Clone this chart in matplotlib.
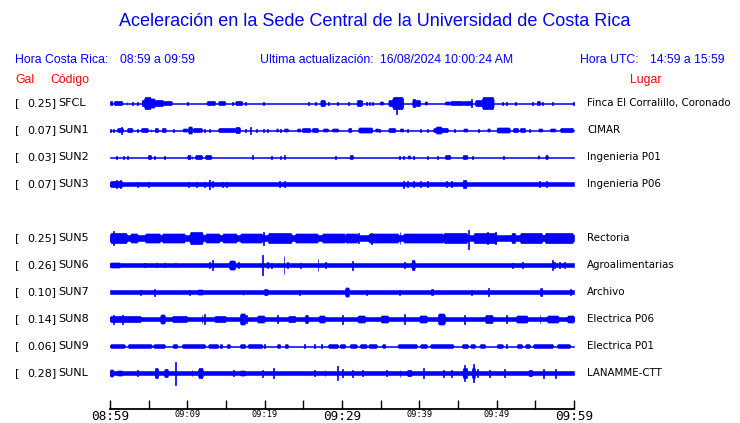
import matplotlib
matplotlib.use('Agg')
import matplotlib.pyplot as plt

# estaciones (codigo, Gal, lugar, fila)
codigos = ['SFCL', 'SUN1', 'SUN2', 'SUN3', 'SUN5', 'SUN6', 'SUN7', 'SUN8', 'SUN9', 'SUNL']
gal = ['0.25', '0.07', '0.03', '0.07', '0.25', '0.26', '0.10', '0.14', '0.06', '0.28']
lugares = ['Finca El Corralillo, Coronado', 'CIMAR', 'Ingenieria P01', 'Ingenieria P06',
           'Rectoria', 'Agroalimentarias', 'Archivo', 'Electrica P06', 'Electrica P01',
           'LANAMME-CTT']
filas = [0, 1, 2, 3, 5, 6, 7, 8, 9, 10]

# ruido de fondo de cada traza (amplitud relativa)
fondo = [0.5, 0.5, 0.5, 1.8, 3.3, 1.8, 1.8, 2.4, 0.5, 2.0]

# eventos: (minuto inicio, minuto fin, amplitud), minutos desde 08:59
ev_SFCL = [(0.0, 0.3, 2), (0.5, 1.6, 2), (2.2, 2.2, 1.5), (2.9, 2.9, 1.5), (3.5, 3.5, 1.5),
           (4.1, 4.5, 3), (4.4, 5.3, 6), (5.2, 5.8, 4.5), (5.8, 6.9, 3), (6.9, 8.0, 2),
           (10.0, 10.0, 1.5), (12.5, 13.6, 2), (14.0, 14.9, 2), (15.9, 15.9, 1.5),
           (16.2, 17.1, 2), (17.5, 17.5, 1.5), (19.9, 19.9, 1.5), (25.7, 25.7, 1.5),
           (26.6, 26.6, 1.5), (27.2, 27.8, 3), (28.3, 28.3, 1.5), (29.4, 29.4, 1.5),
           (30.9, 30.9, 1.5), (31.9, 32.6, 3), (33.2, 33.2, 1.5), (33.6, 33.6, 1.5),
           (33.9, 33.9, 1.5), (34.9, 35.3, 1.5), (36.0, 36.6, 3), (36.5, 37.9, 6),
           (39.1, 39.5, 4), (39.5, 40.1, 3), (40.7, 41.0, 1.5), (43.3, 44.0, 1.5),
           (44.0, 45.7, 2), (45.7, 46.8, 2), (46.8, 46.8, 4), (47.2, 48.2, 3),
           (48.1, 49.6, 6), (50.7, 50.7, 1.5), (51.3, 51.3, 1.5), (52.4, 52.4, 1.5),
           (54.6, 54.6, 1.5), (55.2, 55.6, 2), (55.9, 55.9, 1.5), (57.2, 57.2, 1.5),
           (59.9, 59.9, 1.5)]
ev_SUN1 = [(0.1, 0.1, 1.5), (0.4, 0.4, 1.5), (0.9, 1.7, 2), (1.5, 1.6, 3.5), (2.2, 2.9, 2),
           (3.5, 3.5, 1.5), (4.0, 4.9, 2), (5.3, 5.3, 1.5), (5.8, 6.2, 2), (6.7, 7.2, 2),
           (8.2, 8.2, 1.5), (9.4, 10.0, 1.5), (10.1, 10.6, 3.5), (10.7, 11.9, 2),
           (12.2, 12.2, 1.5), (12.9, 12.9, 1.5), (14.0, 16.2, 2), (16.2, 16.8, 3),
           (17.5, 17.5, 1.5), (18.2, 18.2, 3.5), (19.0, 19.0, 1.5), (19.8, 19.8, 1.5),
           (20.4, 20.4, 1.5), (21.5, 21.7, 1.5), (22.0, 22.0, 1.5), (22.5, 23.0, 1.5),
           (24.2, 24.6, 1.5), (24.8, 25.9, 2), (26.1, 26.9, 2), (27.5, 28.2, 1.5),
           (28.7, 29.5, 1.5), (30.8, 31.2, 2), (32.1, 33.9, 2.5), (34.3, 34.7, 1.5),
           (34.9, 34.9, 1.5), (36.0, 36.9, 2), (37.5, 37.9, 1.5), (38.5, 38.5, 1.5),
           (40.1, 40.1, 1.5), (41.0, 41.0, 1.5), (41.8, 43.7, 2), (42.1, 42.9, 3.5),
           (44.6, 44.6, 1.5), (45.7, 46.2, 1.5), (47.6, 47.6, 1.5), (48.8, 49.1, 1.5),
           (50.0, 51.7, 2.5), (52.1, 52.8, 2), (53.0, 53.7, 2), (54.3, 54.3, 1.5),
           (55.4, 55.9, 1.5), (56.9, 57.6, 1.5), (58.2, 59.9, 2)]
ev_SUN2 = [(0.9, 0.9, 1.5), (1.7, 1.7, 1.5), (2.3, 2.3, 1.5), (4.9, 5.3, 2), (5.7, 5.7, 1.5),
           (7.1, 7.1, 1.5), (10.0, 10.4, 2), (10.6, 10.6, 1.5), (11.0, 11.9, 2),
           (12.3, 13.1, 2), (18.4, 18.4, 2), (20.9, 20.9, 1.5), (22.0, 22.0, 1.5),
           (22.6, 22.6, 2), (29.1, 29.1, 1.5), (31.0, 31.4, 2), (37.4, 37.4, 1.5),
           (37.9, 38.0, 1.5), (38.5, 38.8, 1.5), (39.2, 39.2, 1.5), (41.1, 41.1, 1.5),
           (42.3, 42.3, 1.5), (43.3, 44.0, 2), (45.6, 46.2, 2), (46.9, 46.9, 1.5),
           (50.9, 50.9, 1.5), (55.3, 55.5, 1.5), (56.3, 56.6, 2)]
ev_SUN3 = [(0.0, 1.6, 3), (0.9, 0.9, 4), (1.4, 1.4, 4), (3.5, 3.5, 2.5), (5.0, 5.0, 2.5),
           (10.1, 10.1, 2.5), (11.2, 11.2, 2.5), (12.2, 12.2, 2.5), (12.9, 12.9, 4.5),
           (13.2, 13.2, 3), (14.5, 14.5, 2.5), (15.1, 15.1, 2.5), (21.9, 21.9, 3),
           (22.6, 22.6, 3), (37.9, 37.9, 3.5), (38.5, 38.5, 3), (39.2, 39.2, 3),
           (40.1, 40.1, 3), (41.1, 41.1, 3), (43.5, 43.5, 3), (44.2, 44.2, 3),
           (45.6, 46.1, 4), (55.5, 55.5, 3), (56.5, 56.5, 3)]
ev_SUN5 = [(0.0, 2.2, 5), (0.4, 0.4, 7), (2.6, 3.6, 4.5), (4.5, 6.5, 4.5), (6.7, 9.7, 4.5),
           (10.3, 12.0, 6), (12.3, 14.2, 4.5), (14.5, 16.4, 4.5), (16.8, 19.7, 4.5),
           (19.9, 19.9, 6.5), (20.4, 23.5, 5), (23.9, 26.9, 4.5), (27.4, 30.4, 4.5),
           (30.4, 32.0, 4.5), (32.1, 32.1, 5), (33.4, 37.3, 4.5), (33.8, 33.8, 5.5),
           (37.5, 37.5, 6), (37.9, 43.1, 4.5), (43.1, 46.2, 5), (47.0, 50.0, 5),
           (48.8, 48.8, 6), (49.8, 49.8, 6), (51.9, 52.4, 5), (53.0, 55.9, 5),
           (56.2, 59.9, 5)]
ev_SUN6 = [(0.0, 1.3, 2.5), (4.5, 4.5, 2), (6.0, 6.0, 2), (7.1, 7.1, 2), (8.5, 8.5, 2),
           (12.9, 12.9, 3), (13.3, 13.3, 5), (15.4, 16.2, 4.5), (16.6, 16.6, 3),
           (19.7, 19.7, 10), (20.4, 20.4, 3), (20.9, 20.9, 2.5), (22.5, 22.5, 9),
           (23.0, 23.0, 3), (24.6, 24.6, 2.5), (26.9, 26.9, 6), (27.9, 27.9, 3),
           (31.3, 31.3, 4.5), (38.1, 38.1, 3), (39.0, 39.4, 5), (52.1, 52.1, 2.5),
           (53.4, 53.4, 3), (57.2, 57.2, 5), (57.5, 57.5, 3), (58.1, 58.1, 3),
           (58.8, 58.8, 3)]
ev_SUN7 = [(3.9, 3.9, 2.5), (5.8, 5.8, 3.5), (10.3, 10.3, 2.5), (11.3, 12.0, 2.5),
           (17.2, 17.2, 2.5), (19.9, 20.4, 3), (24.5, 24.5, 2.5), (30.4, 30.9, 4.5),
           (33.2, 33.2, 2.5), (37.4, 37.4, 2.5), (41.5, 41.8, 3), (46.8, 46.8, 2.5),
           (49.0, 49.0, 4), (55.6, 55.9, 4), (59.5, 59.5, 3)]
ev_SUN8 = [(0.0, 4.0, 3), (0.5, 0.5, 4.5), (1.6, 1.6, 4.5), (6.5, 7.1, 4.5), (8.0, 10.0, 3),
           (11.9, 11.9, 4), (12.2, 12.2, 5), (13.5, 15.0, 3), (16.8, 17.5, 5.5),
           (17.7, 17.7, 4), (19.0, 20.0, 3.5), (21.7, 21.7, 4), (23.0, 24.0, 3),
           (25.2, 25.6, 4), (27.0, 27.8, 3.5), (30.1, 30.1, 4.5), (32.0, 33.0, 3.5),
           (35.0, 36.0, 3.5), (38.1, 38.1, 5), (40.0, 41.0, 3.5), (42.4, 43.3, 5.5),
           (45.9, 45.9, 4.5), (48.5, 49.5, 4), (51.3, 51.3, 4), (52.5, 54.0, 3.5),
           (55.6, 55.6, 4), (56.5, 58.0, 3.5), (59.1, 60.0, 3.5)]
ev_SUN9 = [(0.0, 1.9, 1.8), (2.3, 5.4, 1.8), (5.6, 7.1, 1.8), (8.1, 8.7, 1.8), (9.3, 12.3, 1.8),
           (12.7, 14.0, 1.8), (14.2, 14.5, 1.8), (15.1, 15.5, 1.8), (16.8, 17.5, 1.8),
           (17.8, 19.7, 1.8), (20.0, 20.0, 1.8), (21.6, 22.0, 1.8), (22.6, 23.0, 1.8),
           (25.2, 25.2, 1.8), (26.5, 26.5, 1.8), (27.4, 27.4, 1.8), (28.2, 29.5, 1.8),
           (29.7, 30.4, 1.8), (31.0, 31.9, 1.8), (32.3, 33.2, 1.8), (33.4, 34.5, 1.8),
           (35.2, 35.6, 1.8), (37.2, 39.7, 1.8), (40.1, 41.0, 1.8), (41.4, 44.4, 1.8),
           (45.5, 46.3, 1.8), (46.6, 47.2, 1.8), (47.8, 48.5, 1.8), (50.0, 50.8, 1.8),
           (51.3, 51.3, 1.8), (52.6, 53.3, 1.8), (53.7, 54.3, 1.8), (54.7, 57.3, 1.8),
           (57.8, 59.5, 1.8)]
ev_SUNL = [(0.0, 0.4, 3.5), (0.9, 1.6, 2.5), (3.5, 3.5, 3), (5.8, 6.2, 5), (7.0, 7.5, 4),
           (8.5, 8.5, 11.5), (10.6, 10.6, 3), (11.4, 12.0, 5), (16.0, 16.0, 3),
           (16.8, 17.5, 2.5), (19.7, 19.7, 3.5), (21.2, 21.2, 5), (26.5, 26.5, 3),
           (27.8, 27.8, 3), (29.4, 29.5, 7), (30.1, 30.1, 4), (31.3, 31.3, 3.5),
           (32.6, 32.6, 3), (35.8, 35.8, 3), (37.5, 37.5, 3.5), (38.4, 39.0, 3),
           (40.5, 40.5, 5), (43.1, 43.1, 3.5), (44.2, 44.2, 3.5), (45.6, 46.2, 5),
           (45.8, 45.8, 8), (46.8, 47.2, 5), (47.0, 47.0, 9), (47.5, 47.5, 4),
           (49.1, 49.1, 3.5), (51.0, 51.0, 4), (54.1, 54.6, 3), (56.0, 56.0, 4.5),
           (57.6, 57.6, 4.5)]
eventos = [ev_SFCL, ev_SUN1, ev_SUN2, ev_SUN3, ev_SUN5, ev_SUN6, ev_SUN7, ev_SUN8, ev_SUN9, ev_SUNL]

# picos asimetricos: (minuto, arriba, abajo)
picos = {'SFCL': [(37.1, 6, 11)], 'SUN5': [(46.3, 8, 11)]}

etiquetas_x = ['08:59', '', '09:09', '', '09:19', '', '09:29', '', '09:39', '', '09:49', '', '09:59']

azul = '#0000ff'
k = 1 / 27.0  # amplitud -> separacion entre trazas

fig = plt.figure(figsize=(7.4, 4.23), dpi=100)
ax = fig.add_axes([110 / 740, 1 - 409 / 423, 464 / 740, 321 / 423])
ax.set_xlim(0, 60)
ax.set_ylim(11.333, -0.556)

for i, cod in enumerate(codigos):
    f = filas[i]
    b = fondo[i] * k
    ax.fill_between([0, 60], f - b, f + b, color=azul, lw=0.4)
    for (t0, t1, a) in eventos[i]:
        d = t1 - t0
        if d < 0.13:
            ax.fill_between([t0 - 0.06, t0 + 0.06], f - a * k, f + a * k, color=azul, lw=0.5)
        else:
            # bloque con bordes algo biselados
            r = min(0.15 * d, 0.12)
            xs = [t0, t0 + r, t1 - r, t1]
            amp = [0.6 * a * k, a * k, a * k, 0.6 * a * k]
            ax.fill_between(xs, [f - v for v in amp], [f + v for v in amp], color=azul, lw=0.5)
    for (t, up, dn) in picos.get(cod, []):
        ax.fill_between([t - 0.06, t + 0.06], f - up * k, f + dn * k, color=azul, lw=0.5)

    yy = 1 - (103 + 27 * f) / 423
    fig.text(15 / 740, yy, '[', fontsize=8, va='center', family='DejaVu Sans')
    fig.text(56 / 740, yy, gal[i] + ']', fontsize=8, va='center', ha='right',
             family='DejaVu Sans')
    fig.text(58 / 740, yy, cod, fontsize=8, va='center', family='DejaVu Sans')
    fig.text(587 / 740, yy, lugares[i], fontsize=7.4, va='center', family='DejaVu Sans')

for s in ['top', 'left', 'right']:
    ax.spines[s].set_visible(False)
ax.spines['bottom'].set_linewidth(1.3)
ax.set_yticks([])
ax.set_xticks(range(0, 61, 5))
ax.set_xticklabels(etiquetas_x, family='DejaVu Sans Mono')
ax.tick_params(axis='x', direction='in', length=6.5, width=1, pad=1)
for j, lab in enumerate(ax.get_xticklabels()):
    lab.set_fontsize(9.2 if j in (0, 6, 12) else 6.2)

fig.text(375 / 740, 1 - 22 / 423, 'Aceleración en la Sede Central de la Universidad de Costa Rica',
         ha='center', va='center', fontsize=13, color=azul, family='Liberation Sans')

cabecera = [(15, 'Hora Costa Rica:'), (120, '08:59 a 09:59'),
            (260, 'Ultima actualización:'), (380, '16/08/2024 10:00:24 AM'),
            (580, 'Hora UTC:'), (650, '14:59 a 15:59')]
for x, txt in cabecera:
    fig.text(x / 740, 1 - 60 / 423, txt, va='center', fontsize=8.8, color=azul,
             family='Liberation Sans')

fig.text(15 / 740, 1 - 80 / 423, 'Gal', va='center', fontsize=8.8, color='red',
         family='Liberation Sans')
fig.text(50 / 740, 1 - 80 / 423, 'Código', va='center', fontsize=8.8, color='red',
         family='Liberation Sans')
fig.text(646 / 740, 1 - 80 / 423, 'Lugar', va='center', ha='center', fontsize=8.8, color='red',
         family='Liberation Sans')

fig.savefig('out.png', dpi=100)
